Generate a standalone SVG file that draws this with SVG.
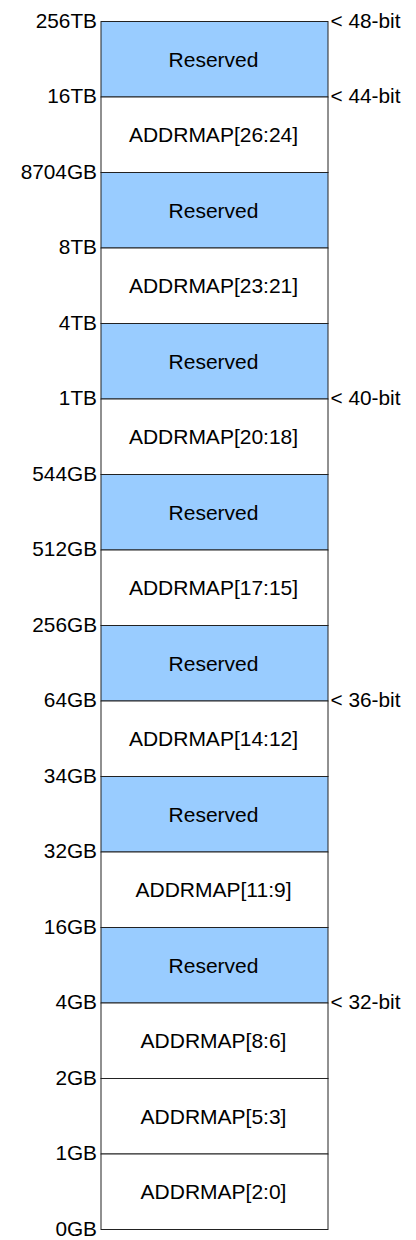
<svg xmlns="http://www.w3.org/2000/svg" width="416" height="1240" viewBox="0 0 416 1240">
<style>
text{font-family:"Liberation Sans",Arial,sans-serif;fill:#000}
.l{font-size:20.8px;text-anchor:end}
.r{font-size:20.8px;text-anchor:start}
.t{font-size:21px;text-anchor:middle}
.res{fill:#99ccff;stroke:#222;stroke-width:1}
.addr{fill:#fff;stroke:#222;stroke-width:1}
</style>
<rect width="416" height="1240" fill="#fff"/>
<g id="row0"><rect class="res" x="101" y="21.5" width="227" height="75.5"/><text class="t" x="213.5" y="66.8">Reserved</text></g>
<g id="row1"><rect class="addr" x="101" y="97" width="227" height="75.5"/><text class="t" x="213.5" y="142.3">ADDRMAP[26:24]</text></g>
<g id="row2"><rect class="res" x="101" y="172.5" width="227" height="75.5"/><text class="t" x="213.5" y="217.8">Reserved</text></g>
<g id="row3"><rect class="addr" x="101" y="248" width="227" height="75.5"/><text class="t" x="213.5" y="293.3">ADDRMAP[23:21]</text></g>
<g id="row4"><rect class="res" x="101" y="323.5" width="227" height="75.5"/><text class="t" x="213.5" y="368.8">Reserved</text></g>
<g id="row5"><rect class="addr" x="101" y="399" width="227" height="75.5"/><text class="t" x="213.5" y="444.3">ADDRMAP[20:18]</text></g>
<g id="row6"><rect class="res" x="101" y="474.5" width="227" height="75.5"/><text class="t" x="213.5" y="519.8">Reserved</text></g>
<g id="row7"><rect class="addr" x="101" y="550" width="227" height="75.5"/><text class="t" x="213.5" y="595.3">ADDRMAP[17:15]</text></g>
<g id="row8"><rect class="res" x="101" y="625.5" width="227" height="75.5"/><text class="t" x="213.5" y="670.8">Reserved</text></g>
<g id="row9"><rect class="addr" x="101" y="701" width="227" height="75.5"/><text class="t" x="213.5" y="746.3">ADDRMAP[14:12]</text></g>
<g id="row10"><rect class="res" x="101" y="776.5" width="227" height="75.5"/><text class="t" x="213.5" y="821.8">Reserved</text></g>
<g id="row11"><rect class="addr" x="101" y="852" width="227" height="75.5"/><text class="t" x="213.5" y="897.3">ADDRMAP[11:9]</text></g>
<g id="row12"><rect class="res" x="101" y="927.5" width="227" height="75.5"/><text class="t" x="213.5" y="972.8">Reserved</text></g>
<g id="row13"><rect class="addr" x="101" y="1003" width="227" height="75.5"/><text class="t" x="213.5" y="1048.3">ADDRMAP[8:6]</text></g>
<g id="row14"><rect class="addr" x="101" y="1078.5" width="227" height="75.5"/><text class="t" x="213.5" y="1123.8">ADDRMAP[5:3]</text></g>
<g id="row15"><rect class="addr" x="101" y="1154" width="227" height="75.5"/><text class="t" x="213.5" y="1199.3">ADDRMAP[2:0]</text></g>
<g id="left-labels">
<text class="l" x="97" y="27.8">256TB</text>
<text class="l" x="97" y="103.3">16TB</text>
<text class="l" x="97" y="178.8">8704GB</text>
<text class="l" x="97" y="254.3">8TB</text>
<text class="l" x="97" y="329.8">4TB</text>
<text class="l" x="97" y="405.3">1TB</text>
<text class="l" x="97" y="480.8">544GB</text>
<text class="l" x="97" y="556.3">512GB</text>
<text class="l" x="97" y="631.8">256GB</text>
<text class="l" x="97" y="707.3">64GB</text>
<text class="l" x="97" y="782.8">34GB</text>
<text class="l" x="97" y="858.3">32GB</text>
<text class="l" x="97" y="933.8">16GB</text>
<text class="l" x="97" y="1009.3">4GB</text>
<text class="l" x="97" y="1084.8">2GB</text>
<text class="l" x="97" y="1160.3">1GB</text>
<text class="l" x="97" y="1235.8">0GB</text>
</g>
<g id="right-labels">
<text class="r" x="330.5" y="27.8">&lt; 48-bit</text>
<text class="r" x="330.5" y="103.3">&lt; 44-bit</text>
<text class="r" x="330.5" y="405.3">&lt; 40-bit</text>
<text class="r" x="330.5" y="707.3">&lt; 36-bit</text>
<text class="r" x="330.5" y="1009.3">&lt; 32-bit</text>
</g>
</svg>
